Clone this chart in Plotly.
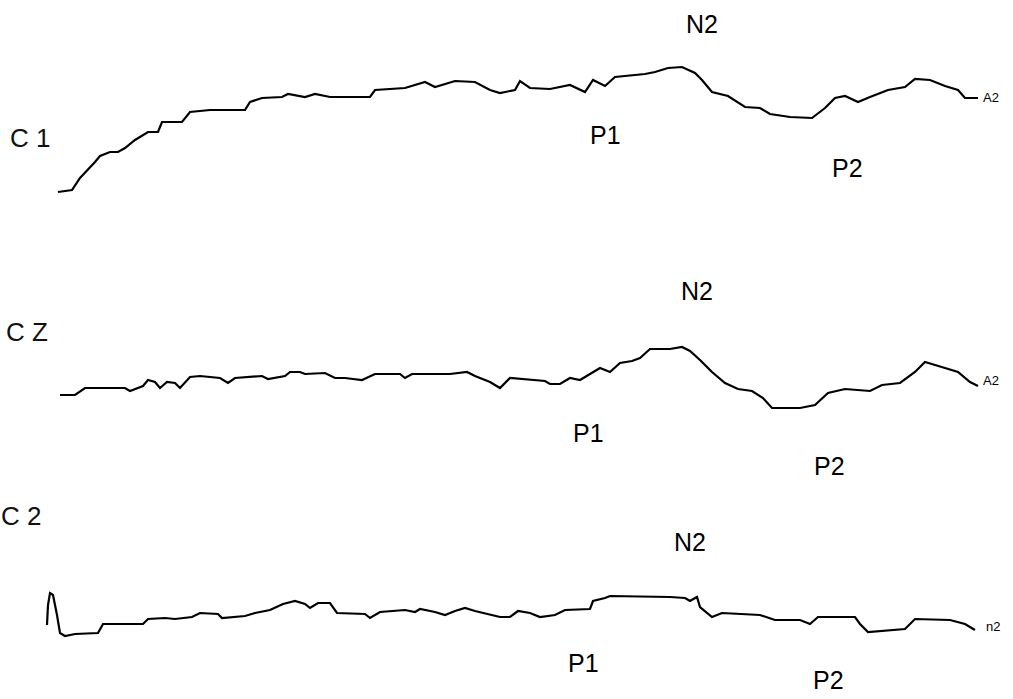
import plotly.graph_objects as go

# ---- data (x: time units, y: vertical position units, downward) ----
c1_x = [58, 72, 80, 88, 95, 100, 110, 118, 125, 135, 148, 158, 162, 182, 190, 210, 245, 250, 262, 282, 288, 305, 315,
        330, 370, 375, 405, 425, 435, 455, 475, 490, 500, 515, 520, 530, 550, 570, 585, 593, 605, 615, 645, 655,
        668, 682, 695, 702, 712, 728, 738, 745, 760, 770, 790, 812, 825, 835, 845, 858, 870, 888, 905, 915, 930,
        945, 958, 965, 978]
c1_y = [192, 190, 178, 170, 162, 156, 152, 152, 148, 140, 132, 132, 122, 122, 112, 110, 110, 102, 98, 97, 94, 97, 94,
        97, 97, 90, 88, 82, 87, 81, 82, 90, 93, 90, 81, 88, 89, 85, 92, 80, 86, 77, 74, 72,
        68, 67, 73, 80, 92, 96, 103, 107, 108, 114, 117, 118, 108, 98, 96, 102, 97, 90, 87, 79, 80,
        86, 90, 98, 98]

cz_x = [60, 75, 85, 95, 125, 130, 143, 148, 155, 160, 167, 175, 180, 190, 200, 220, 228, 235, 262, 268, 285, 290, 300,
        305, 325, 335, 345, 362, 375, 400, 405, 412, 445, 450, 467, 475, 490, 500, 510, 545, 550, 560, 570, 580,
        590, 600, 610, 620, 632, 640, 650, 670, 682, 690, 700, 712, 725, 738, 752, 763, 772, 800, 815, 828, 845,
        870, 882, 900, 915, 925, 945, 958, 970, 978]
cz_y = [395, 395, 388, 388, 388, 391, 386, 380, 382, 388, 382, 383, 388, 377, 376, 378, 383, 378, 376, 379, 376, 372, 372,
        374, 373, 378, 378, 380, 374, 374, 378, 374, 374, 374, 372, 376, 382, 388, 378, 381, 384, 384, 378, 380,
        374, 368, 372, 363, 361, 358, 349, 349, 347, 351, 360, 372, 383, 389, 391, 398, 408, 408, 405, 393, 389,
        391, 385, 383, 372, 362, 368, 372, 382, 386]

c2_x = [47, 48, 50, 53, 57, 60, 65, 75, 98, 103, 143, 148, 165, 175, 192, 200, 218, 222, 245, 255, 270, 283, 295, 305,
        310, 318, 330, 337, 365, 370, 380, 405, 415, 420, 435, 445, 455, 465, 475, 490, 500, 510, 518, 530, 540,
        555, 565, 590, 593, 605, 610, 670, 685, 690, 697, 700, 712, 722, 760, 775, 800, 810, 818, 855, 860, 868,
        905, 915, 950, 965, 975]
c2_y = [625, 605, 593, 595, 615, 633, 636, 634, 633, 624, 624, 619, 618, 619, 617, 613, 614, 618, 616, 613, 610, 604, 601, 604,
        608, 603, 603, 613, 614, 618, 612, 610, 612, 609, 612, 615, 611, 608, 611, 615, 617, 617, 611, 613, 617,
        615, 610, 609, 601, 598, 596, 597, 598, 601, 597, 607, 617, 613, 615, 620, 620, 624, 617, 617, 624, 632,
        629, 619, 620, 624, 630]

# channel names and peak labels: (text, x, y)
channel_labels = [("C 1", 30, 138), ("C Z", 27, 332), ("C 2", 21, 516)]
peak_labels = [("N2", 702, 24), ("P1", 605, 135), ("P2", 847, 168),
               ("N2", 697, 291), ("P1", 588, 433), ("P2", 829, 466),
               ("N2", 690, 542), ("P1", 583, 663), ("P2", 828, 680)]
end_labels = [("A2", 991, 97), ("A2", 991, 380), ("n2", 993, 626)]

fig = go.Figure()
for xs, ys in [(c1_x, c1_y), (cz_x, cz_y), (c2_x, c2_y)]:
    fig.add_trace(go.Scatter(x=xs, y=ys, mode="lines",
                             line=dict(color="black", width=2.2), showlegend=False, hoverinfo="skip"))

for t, x, y in channel_labels:
    fig.add_annotation(x=x, y=y, text=t, showarrow=False,
                       font=dict(family="Liberation Sans, Arial", size=26, color="#111"))
for t, x, y in peak_labels:
    fig.add_annotation(x=x, y=y, text=t, showarrow=False,
                       font=dict(family="Liberation Sans, Arial", size=25, color="black"))
for t, x, y in end_labels:
    fig.add_annotation(x=x, y=y, text=t, showarrow=False,
                       font=dict(family="Liberation Sans, Arial", size=13, color="black"))

fig.update_layout(width=1013, height=699, margin=dict(l=0, r=0, t=0, b=0),
                  paper_bgcolor="white", plot_bgcolor="white",
                  xaxis=dict(range=[0, 1013], visible=False, fixedrange=True),
                  yaxis=dict(range=[699, 0], visible=False, fixedrange=True))
fig.write_html("out.html", config={"displayModeBar": False},
               post_script="document.body.style.margin='0';document.body.style.overflow='hidden';")
